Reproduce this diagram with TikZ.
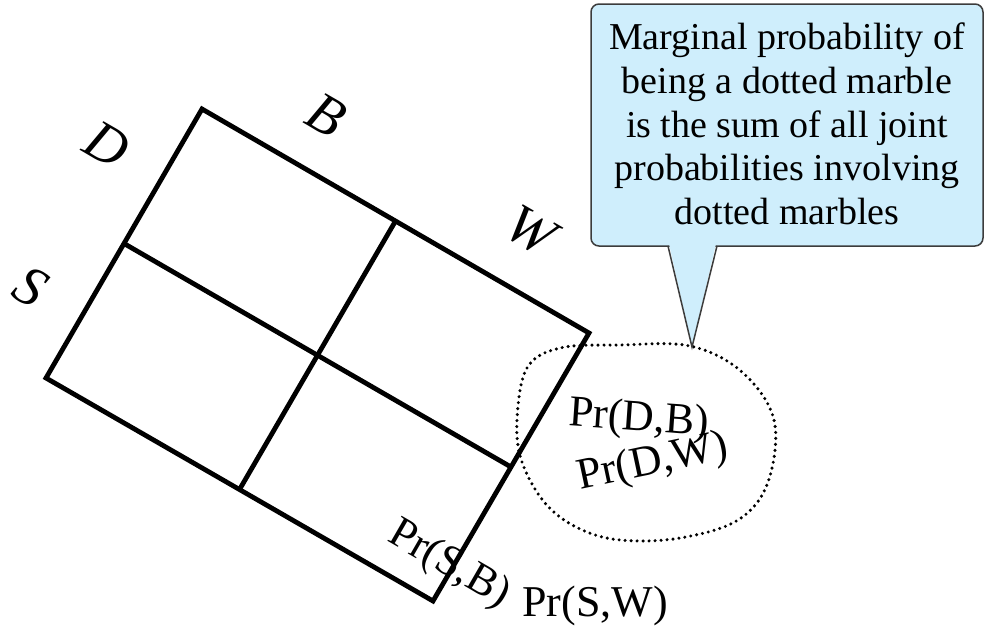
\documentclass[tikz,border=0pt]{standalone}
\usepackage{fontspec}
\usetikzlibrary{calc}
\setmainfont{Liberation Serif}
\definecolor{callfill}{RGB}{207,238,252}
\definecolor{callline}{RGB}{60,60,60}
\begin{document}
\begin{tikzpicture}[x=1pt,y=-1pt,
  gridline/.style={line width=4.8pt,line join=miter,black},
  axislabel/.style={font=\fontsize{56}{60}\selectfont\itshape,rotate=-30,inner sep=0pt},
  prlabel/.style={font=\fontsize{44}{48}\selectfont,inner sep=0pt},
  calltext/.style={font=\fontsize{38}{43.6}\selectfont,align=center,inner sep=0pt}]
\useasboundingbox (0,0) rectangle (985,630);
\fill[white] (0,0) rectangle (985,630);
% table corners
\coordinate (T) at (202,109);
\coordinate (R) at (589,333);
\coordinate (Bm) at (433,601);
\coordinate (L) at (46,378);
\coordinate (ml) at ($(T)!0.5!(L)$);
\coordinate (mr) at ($(R)!0.5!(Bm)$);
\coordinate (mt) at ($(T)!0.5!(R)$);
\coordinate (mb) at ($(L)!0.5!(Bm)$);
\draw[gridline] (T) -- (R) -- (Bm) -- (L) -- cycle;
\draw[gridline] (ml) -- (mr);
\draw[gridline] (mt) -- (mb);
% axis labels
\node[axislabel] (lD) at (107,145) {D};
\node[axislabel] (lB) at (326,115) {B};
\node[axislabel] (lW) at (531,231) {W};
\node[axislabel] (lS) at (31,287) {S};
% dotted region
\draw[line width=3.4pt,dash pattern=on 0pt off 6pt,line cap=round] plot[smooth cycle,tension=0.6] coordinates {
  (517,420) (527,368) (560,348) (620,345) (690,346) (742,372) (774,420)
  (768,482) (738,520) (680,538) (620,540) (578,528) (545,503) (522,462)};
% probability labels
\node[prlabel,rotate=-4] (pDB) at (639,420) {Pr(D,B)};
\node[prlabel,rotate=12] (pDW) at (653,463) {Pr(D,W)};
\node[prlabel,rotate=-30] (pSB) at (449,565) {Pr(S,B)};
\node[prlabel] (pSW) at (595,606) {Pr(S,W)};
% callout
\coordinate (tip) at (692,347);
\draw[callline,line width=1.5pt,fill=callfill,rounded corners=8pt] (591,4) rectangle (983,246);
\fill[callfill] (668.8,243) -- (716.2,243) -- (tip) -- cycle;
\draw[callline,line width=1.5pt,line join=miter] (668,246) -- (tip) -- (717,246);
\node[calltext] (note) at (787,124) {Marginal probability of\\being a dotted marble\\is the sum of all joint\\probabilities involving\\dotted marbles};
\end{tikzpicture}
\end{document}
